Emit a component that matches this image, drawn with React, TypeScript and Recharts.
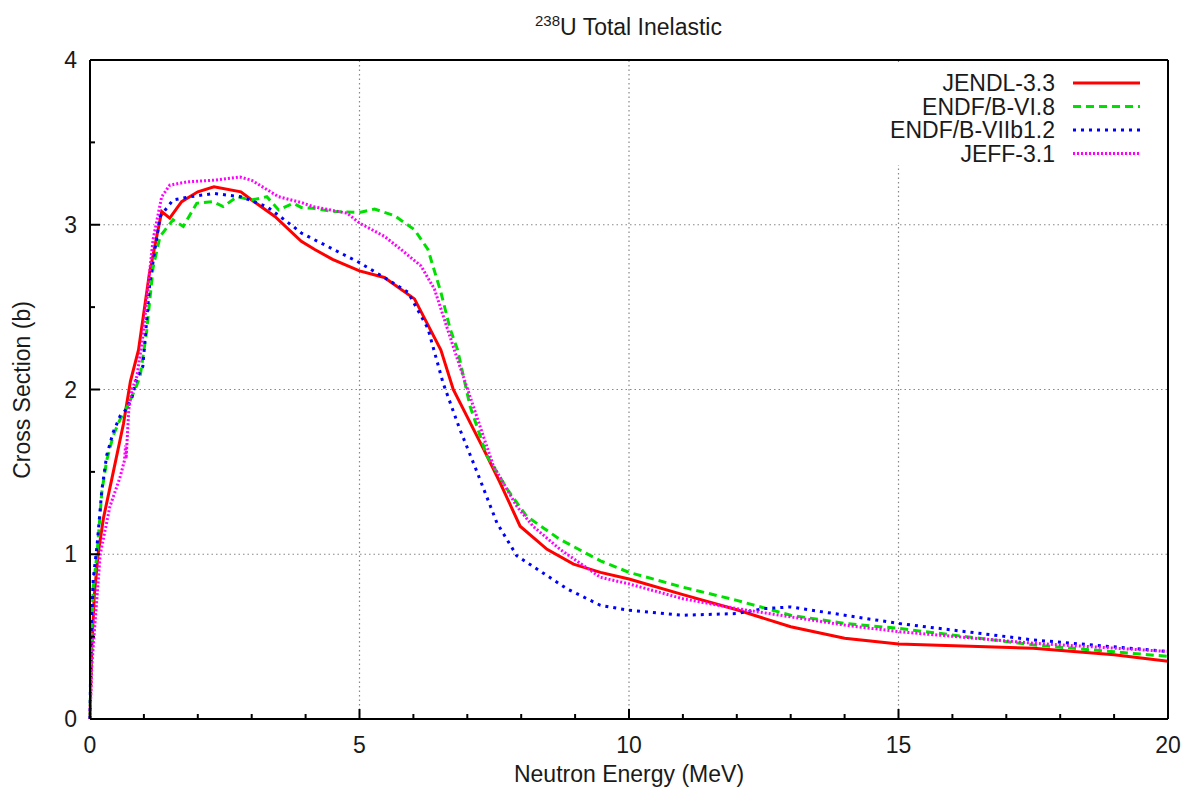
import React from 'react';
import { LineChart, Line, XAxis, YAxis, ReferenceLine, Legend } from 'recharts';

// [energy (MeV), cross section (b)]
const jendl33: [number, number][] = [
  [0, 0], [0.03, 0.4], [0.08, 0.75], [0.15, 1.0], [0.25, 1.22], [0.4, 1.45], [0.62, 1.79],
  [0.75, 2.05], [0.9, 2.24], [1.1, 2.7], [1.33, 3.08], [1.48, 3.04], [1.7, 3.14], [2.0, 3.2],
  [2.3, 3.23], [2.8, 3.2], [3.0, 3.15], [3.43, 3.05], [3.92, 2.9], [4.17, 2.85], [4.5, 2.79],
  [5.0, 2.72], [5.46, 2.68], [6.02, 2.55], [6.51, 2.24], [6.74, 2.0], [7.3, 1.64], [7.6, 1.44],
  [7.98, 1.17], [8.48, 1.03], [8.97, 0.94], [9.47, 0.89], [10.0, 0.85], [11.0, 0.755],
  [12.0, 0.663], [13.0, 0.56], [14.0, 0.49], [15.0, 0.455], [17.5, 0.43], [19.0, 0.39], [20.0, 0.35],
];

const endfb68: [number, number][] = [
  [0, 0], [0.02, 0.4], [0.06, 0.8], [0.13, 1.0], [0.22, 1.38], [0.31, 1.57], [0.43, 1.72],
  [0.56, 1.82], [0.7, 1.9], [0.86, 2.02], [0.93, 2.08], [1.05, 2.35], [1.17, 2.74], [1.3, 2.93],
  [1.54, 3.03], [1.73, 2.99], [1.98, 3.13], [2.28, 3.14], [2.47, 3.11], [2.73, 3.17], [3.0, 3.15],
  [3.28, 3.17], [3.5, 3.09], [3.77, 3.13], [3.92, 3.105], [4.14, 3.1], [4.5, 3.08], [5.0, 3.075],
  [5.28, 3.095], [5.65, 3.055], [6.02, 2.97], [6.27, 2.85], [6.51, 2.59], [6.68, 2.37],
  [6.82, 2.24], [7.05, 1.9], [7.36, 1.6], [7.73, 1.4], [8.1, 1.23], [8.72, 1.09], [9.47, 0.96],
  [10.0, 0.89], [11.0, 0.8], [12.0, 0.72], [13.0, 0.63], [14.0, 0.58], [15.0, 0.55],
  [17.5, 0.45], [20.0, 0.38],
];

const endfb7b12: [number, number][] = [
  [0, 0], [0.02, 0.5], [0.06, 0.85], [0.13, 1.05], [0.22, 1.39], [0.31, 1.6], [0.43, 1.74],
  [0.56, 1.84], [0.65, 1.87], [0.77, 1.94], [0.86, 2.06], [0.98, 2.14], [1.11, 2.65], [1.3, 3.05],
  [1.54, 3.15], [1.86, 3.17], [2.3, 3.19], [2.8, 3.17], [3.28, 3.11], [3.77, 2.99], [3.92, 2.95],
  [4.4, 2.87], [5.0, 2.77], [5.46, 2.68], [5.9, 2.59], [6.27, 2.37], [6.55, 2.04], [6.86, 1.76],
  [7.18, 1.5], [7.55, 1.19], [7.92, 0.99], [8.48, 0.87], [8.85, 0.79], [9.47, 0.69], [10.0, 0.66],
  [11.0, 0.63], [12.0, 0.64], [12.5, 0.67], [13.0, 0.68], [14.0, 0.63], [15.0, 0.58],
  [17.5, 0.48], [20.0, 0.41],
];

const jeff31: [number, number][] = [
  [0, 0], [0.03, 0.3], [0.06, 0.44], [0.19, 1.0], [0.37, 1.29], [0.56, 1.47], [0.64, 1.57],
  [0.66, 1.66], [0.67, 1.58], [0.72, 1.88], [0.78, 2.0], [0.87, 2.08], [0.98, 2.32], [1.17, 2.91],
  [1.33, 3.17], [1.48, 3.24], [1.8, 3.26], [2.28, 3.27], [2.78, 3.29], [3.0, 3.27], [3.5, 3.17],
  [3.92, 3.135], [4.14, 3.11], [4.77, 3.07], [5.0, 3.01], [5.46, 2.93], [5.77, 2.85], [6.14, 2.75],
  [6.39, 2.61], [6.76, 2.24], [7.11, 1.9], [7.48, 1.54], [7.92, 1.29], [8.22, 1.17], [8.72, 1.03],
  [9.47, 0.86], [10.0, 0.82], [11.0, 0.73], [12.0, 0.67], [13.0, 0.62], [14.0, 0.57], [15.0, 0.53],
  [17.5, 0.46], [20.0, 0.41],
];

const xTicks = [0, 1, 2, 3, 4, 5, 6, 7, 8, 9, 10, 11, 12, 13, 14, 15, 16, 17, 18, 19, 20];
const yTicks = [0, 0.5, 1, 1.5, 2, 2.5, 3, 3.5, 4];
const xGrid = [5, 10, 15];
const yGrid = [1, 2, 3];

const series = [
  { name: 'JENDL-3.3', data: jendl33, color: '#ff0000', dash: undefined as string | undefined },
  { name: 'ENDF/B-VI.8', data: endfb68, color: '#00e000', dash: '8 5' },
  { name: 'ENDF/B-VIIb1.2', data: endfb7b12, color: '#0000ff', dash: '3 5' },
  { name: 'JEFF-3.1', data: jeff31, color: '#ff00ff', dash: '2 2' },
];

const FONT = '"Liberation Sans", Arial, Helvetica, sans-serif';
const TEXT = '#1a1a1a';
const FS = 23;

const BottomTick = (props: any) => {
  const { x, y, payload } = props;
  const major = payload.value % 5 === 0;
  return (
    <g>
      <line x1={x} x2={x} y1={y} y2={y - (major ? 10 : 5)} stroke="#000" strokeWidth={2} />
      {major && (
        <text x={x} y={y + 34} textAnchor="middle" fontSize={FS} fill={TEXT} fontFamily={FONT}>
          {payload.value}
        </text>
      )}
    </g>
  );
};

const TopTick = (props: any) => {
  const { x, y, payload } = props;
  const major = payload.value % 5 === 0;
  return <line x1={x} x2={x} y1={y} y2={y + (major ? 10 : 5)} stroke="#000" strokeWidth={2} />;
};

const LeftTick = (props: any) => {
  const { x, y, payload } = props;
  const major = Number.isInteger(payload.value);
  return (
    <g>
      <line x1={x} x2={x + (major ? 10 : 5)} y1={y} y2={y} stroke="#000" strokeWidth={2} />
      {major && (
        <text x={x - 13} y={y + 8} textAnchor="end" fontSize={FS} fill={TEXT} fontFamily={FONT}>
          {payload.value}
        </text>
      )}
    </g>
  );
};

const RightTick = (props: any) => {
  const { x, y, payload } = props;
  const major = Number.isInteger(payload.value);
  return <line x1={x} x2={x - (major ? 10 : 5)} y1={y} y2={y} stroke="#000" strokeWidth={2} />;
};

const LegendBox = () => (
  <div style={{ background: '#fff', width: 284, height: 103 }}>
    <svg width={284} height={103}>
      {series.map((s, i) => {
        const cy = 21 + i * 23.5;
        return (
          <g key={s.name}>
            <text x={177} y={cy + 8} textAnchor="end" fontSize={FS} fill={TEXT} fontFamily={FONT}>
              {s.name}
            </text>
            <line x1={195} x2={262} y1={cy} y2={cy} stroke={s.color} strokeWidth={3} strokeDasharray={s.dash} />
          </g>
        );
      })}
    </svg>
  </div>
);

const App = () => {
  return (
    <div style={{ position: 'absolute', left: 0, top: 0, width: 1195, height: 796, background: '#fff', fontFamily: FONT }}>
      <div style={{ position: 'absolute', left: 0, width: 1195, top: 12, textAlign: 'center', fontSize: FS, color: TEXT, paddingLeft: 62, boxSizing: 'border-box' }}>
        <sup style={{ fontSize: 15 }}>238</sup>U Total Inelastic
      </div>
      <div style={{ position: 'absolute', left: 90, width: 1078, top: 761, textAlign: 'center', fontSize: FS, color: TEXT }}>
        Neutron Energy (MeV)
      </div>
      <div style={{ position: 'absolute', left: 22, top: 390, transform: 'translate(-50%, -50%) rotate(-90deg)', fontSize: FS, color: TEXT, whiteSpace: 'nowrap' }}>
        Cross Section (b)
      </div>
      <LineChart width={1195} height={796} margin={{ top: 59, right: 26, bottom: 37, left: 50 }}>
        <XAxis
          dataKey="e"
          type="number"
          domain={[0, 20]}
          ticks={xTicks}
          interval={0}
          height={40}
          tickSize={0}
          tickMargin={0}
          axisLine={{ stroke: '#000', strokeWidth: 2 }}
          tickLine={false}
          tick={<BottomTick />}
          allowDuplicatedCategory={false}
        />
        <XAxis
          xAxisId="top"
          orientation="top"
          type="number"
          domain={[0, 20]}
          ticks={xTicks}
          interval={0}
          height={1}
          tickSize={0}
          tickMargin={0}
          axisLine={{ stroke: '#000', strokeWidth: 2 }}
          tickLine={false}
          tick={<TopTick />}
        />
        <YAxis
          type="number"
          domain={[0, 4]}
          ticks={yTicks}
          interval={0}
          width={40}
          tickSize={0}
          tickMargin={0}
          axisLine={{ stroke: '#000', strokeWidth: 2 }}
          tickLine={false}
          tick={<LeftTick />}
        />
        <YAxis
          yAxisId="right"
          orientation="right"
          type="number"
          domain={[0, 4]}
          ticks={yTicks}
          interval={0}
          width={1}
          tickSize={0}
          tickMargin={0}
          axisLine={{ stroke: '#000', strokeWidth: 2 }}
          tickLine={false}
          tick={<RightTick />}
        />
        {xGrid.map((v) => (
          <ReferenceLine key={`gx${v}`} x={v} stroke="#888" strokeWidth={1.2} strokeDasharray="1.5 3" />
        ))}
        {yGrid.map((v) => (
          <ReferenceLine key={`gy${v}`} y={v} stroke="#888" strokeWidth={1.2} strokeDasharray="1.5 3" />
        ))}
        {series.map((s) => (
          <Line
            key={s.name}
            name={s.name}
            data={s.data.map(([e, v]) => ({ e, v }))}
            dataKey="v"
            type="linear"
            stroke={s.color}
            strokeWidth={3}
            strokeDasharray={s.dash}
            dot={false}
            activeDot={false}
            isAnimationActive={false}
          />
        ))}
        <Legend
          content={<LegendBox />}
          layout="horizontal"
          verticalAlign="middle"
          align="center"
          wrapperStyle={{ left: 878, top: 62, width: 284, height: 103 }}
        />
      </LineChart>
    </div>
  );
};

export default App;
